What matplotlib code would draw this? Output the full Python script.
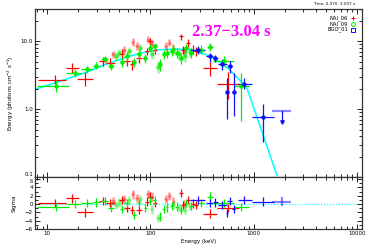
import numpy as np
import matplotlib
matplotlib.use("Agg")
import matplotlib.pyplot as plt

# NAI_06 (red), dark points
r_e = [11.9, 17.5, 23, 35, 41, 53, 59.5, 66.5, 77.5, 92, 99.8, 111, 197, 208, 232, 259, 278, 374, 560]
r_elo = [8.1, 15.3, 19.5, 32, 37, 50, 56, 63, 73, 88, 95, 106, 188, 199, 222, 248, 266, 322, 440]
r_ehi = [15.3, 20.2, 28, 38, 45, 56, 63, 70, 82, 96, 105, 116, 206, 217, 243, 270, 290, 440, 725]
r_f = [2.69, 4.08, 2.75, 5.1, 4.8, 6.6, 5.1, 4.56, 5.7, 7.15, 10.0, 7.55, 11.8, 7.55, 9.5, 7.55, 7.15, 4.08, 2.32]
r_flo = [2.32, 3.37, 2.2, 4.3, 4.0, 5.6, 4.3, 3.8, 4.8, 6.2, 8.8, 6.5, 10.6, 6.5, 8.3, 6.4, 6.0, 3.07, 1.40]
r_fhi = [3.14, 4.8, 3.5, 5.9, 5.6, 7.6, 5.9, 5.3, 6.6, 8.1, 11.2, 8.6, 13.0, 8.6, 10.7, 8.7, 8.3, 4.93, 3.48]
r_sig = [0.24, 1.35, -2.0, 0.7, 0.2, 0.9, -1.0, -1.5, -1.4, 0.6, 1.8, 0.2, 2.65, -0.2, 1.0, 0.1, -0.3, -2.3, -1.0]

# NAI_06 faint points
p_e = [43.5, 55.5, 67.6, 74, 94, 103, 140, 153, 167, 212]
p_elo = [41.5, 53, 65, 71, 90, 99, 135, 148, 161, 204]
p_ehi = [45.5, 58, 70, 77, 98, 107, 145, 158, 173, 220]
p_f = [6.4, 7.55, 9.9, 8.65, 10.6, 9.25, 8.65, 9.6, 7.8, 7.05]
p_flo = [5.6, 6.6, 8.6, 7.5, 9.3, 8.1, 7.5, 8.4, 6.7, 6.0]
p_fhi = [7.3, 8.6, 11.2, 9.8, 12.0, 10.5, 9.8, 10.9, 9.0, 8.2]
p_sig = [0.8, 1.2, 2.3, 1.5, 2.4, 1.8, 1.2, 1.9, 0.6, 0.0]

# NAI_09 (green), dark points
g_e = [12.1, 18.4, 24.2, 29.9, 35.9, 41.6, 53.3, 58.7, 69, 77, 89, 99.8, 110, 124, 134, 144, 161, 179, 200, 223, 249, 311, 374, 513, 751]
g_elo = [8.0, 15.3, 21.3, 27.5, 33.5, 39, 51, 56, 66, 74, 86, 97, 106, 120, 130, 140, 156, 174, 194, 216, 241, 295, 350, 400, 650]
g_ehi = [16.1, 21.3, 27.5, 32.5, 38.5, 44, 56, 61.5, 72, 80, 92, 103, 114, 128, 138, 148, 166, 185, 207, 230, 257, 330, 400, 650, 900]
g_f = [2.22, 3.37, 3.86, 4.4, 5.4, 4.4, 4.93, 6.02, 4.93, 6.4, 5.7, 8.0, 8.45, 4.56, 6.4, 6.75, 7.15, 6.75, 5.7, 8.0, 6.75, 7.55, 8.3, 5.1, 2.19]
g_flo = [1.79, 2.95, 3.4, 3.9, 4.8, 3.8, 4.2, 5.2, 4.2, 5.5, 4.8, 7.0, 7.3, 3.7, 5.4, 5.7, 6.1, 5.7, 4.7, 6.8, 5.6, 6.5, 7.3, 4.3, 0.67]
g_fhi = [2.66, 3.85, 4.4, 4.95, 6.0, 5.0, 5.7, 6.9, 5.7, 7.4, 6.6, 9.1, 9.6, 5.5, 7.5, 7.9, 8.3, 7.9, 6.8, 9.2, 8.0, 8.8, 9.4, 6.0, 3.45]
g_sig = [-0.7, 0.0, 0.2, 0.4, 0.7, -1.0, -1.2, 0.3, -2.6, 0.2, -1.0, 0.8, 0.9, -3.0, -1.2, -0.8, -0.5, -0.6, -1.4, 0.3, -0.5, 0.2, 1.8, 0.3, -0.7]

# NAI_09 faint points
lg_e = [46, 50, 62, 80, 103, 118, 166, 190, 215, 240]
lg_elo = [44, 48, 59, 77, 99, 113, 160, 183, 207, 231]
lg_ehi = [48, 52, 65, 83, 107, 123, 172, 197, 223, 249]
lg_f = [6.0, 6.75, 7.2, 8.0, 6.4, 4.2, 7.55, 6.4, 6.0, 7.0]
lg_flo = [5.1, 5.8, 6.2, 6.9, 5.4, 3.4, 6.4, 5.3, 5.0, 5.9]
lg_fhi = [7.0, 7.8, 8.3, 9.2, 7.5, 5.1, 8.7, 7.6, 7.1, 8.2]
lg_sig = [-0.3, 0.4, 0.9, 1.1, -1.3, -3.4, -0.2, -0.9, -1.4, -0.5]

# BGO_01 (blue)
b_e = [290, 374, 424, 494, 594, 552, 640, 809, 1231]
b_elo = [240, 346, 404, 450, 558, 535, 620, 700, 960]
b_ehi = [340, 404, 450, 550, 620, 570, 660, 975, 1560]
b_f = [7.4, 6.0, 5.6, 4.56, 4.3, 1.82, 1.82, 2.38, 0.77]
b_flo = [6.4, 4.93, 5.0, 3.77, 3.45, 0.71, 0.80, 1.96, 0.33]
b_fhi = [8.45, 6.75, 6.2, 5.4, 5.1, 2.9, 3.45, 2.9, 1.2]
b_sig = [0.9, 0.2, 0.4, -0.2, 0.8, -2.2, -1.2, 1.0, 0.6]

# BGO_01 upper limit
ul_e = [1884]
ul_elo = [1520]
ul_ehi = [2300]
ul_f = [0.94]
ul_fend = [0.65]
ul_sig = [0.6]

# fitted model curve
m_e = [7.6, 15, 25, 40, 60, 80, 120, 180, 250, 360, 500, 600, 750, 871, 1687]
m_f = [1.96, 2.75, 3.6, 4.8, 5.9, 6.7, 7.5, 7.7, 7.5, 6.2, 4.7, 3.64, 2.6, 1.96, 0.105]

RED = '#ff0000'
GREEN = '#00ee00'
BLUE = '#1010ff'
CYAN = '#00ffff'


def xe(e, lo, hi):
    e = np.array(e)
    return [e - np.array(lo), np.array(hi) - e]


fig = plt.figure(figsize=(3.71, 2.49), dpi=100)
ax = fig.add_axes([0.0943, 0.289, 0.881, 0.675])
ax2 = fig.add_axes([0.0943, 0.0803, 0.881, 0.209], sharex=ax)

# top panel
ax.plot(m_e, m_f, color=CYAN, lw=1.1, zorder=1)
ax.errorbar(p_e, p_f, xerr=xe(p_e, p_elo, p_ehi), yerr=xe(p_f, p_flo, p_fhi),
            fmt='none', ecolor=RED, elinewidth=1.8, alpha=0.4)
ax.errorbar(lg_e, lg_f, xerr=xe(lg_e, lg_elo, lg_ehi), yerr=xe(lg_f, lg_flo, lg_fhi),
            fmt='o', ms=2.2, color=GREEN, ecolor=GREEN, elinewidth=1.8, alpha=0.4)
ax.errorbar(r_e, r_f, xerr=xe(r_e, r_elo, r_ehi), yerr=xe(r_f, r_flo, r_fhi),
            fmt='none', ecolor=RED, elinewidth=0.9)
ax.errorbar(g_e, g_f, xerr=xe(g_e, g_elo, g_ehi), yerr=xe(g_f, g_flo, g_fhi),
            fmt='o', ms=2.2, color=GREEN, ecolor=GREEN, elinewidth=0.9)
ax.errorbar(b_e, b_f, xerr=xe(b_e, b_elo, b_ehi), yerr=xe(b_f, b_flo, b_fhi),
            fmt='o', ms=2.2, color=BLUE, ecolor=BLUE, elinewidth=0.9)
ax.errorbar(ul_e, ul_f, xerr=xe(ul_e, ul_elo, ul_ehi), fmt='none',
            ecolor=BLUE, elinewidth=1.6, alpha=0.5)
ax.plot([ul_e[0], ul_e[0]], [ul_f[0], ul_fend[0]], color=BLUE, lw=0.9)
ax.plot(ul_e, ul_fend, 'v', color=BLUE, ms=2.5)

ax.set_xscale('log')
ax.set_yscale('log')
ax.set_xlim(7.6, 11200)
ax.set_ylim(0.1, 30)
ax.set_yticks([0.1, 1, 10])
ax.set_yticklabels(['0.1', '1.0', '10.0'])
ax.set_ylabel('Energy (photons cm$^{-2}$ s$^{-1}$)', fontsize=4, labelpad=3)
ax.tick_params(labelbottom=False)

ax.text(0.6, 0.86, '2.37\u22123.04 s', transform=ax.transAxes, color='#ff00ff',
        fontsize=12, fontweight='bold', family='Liberation Serif', ha='center', va='center')
fig.text(0.957, 0.982, 'Time: 2.370  3.037 s', fontsize=3, ha='right', va='center')

# legend drawn as text
leg_names = ['NAI_06', 'NAI_09', 'BGO_01']
leg_cols = [RED, GREEN, BLUE]
leg_marks = ['+', 'o', 's']
for i in range(3):
    yy = 0.945 - i * 0.034
    ax.text(0.958, yy, leg_names[i], transform=ax.transAxes, fontsize=3.8,
            ha='right', va='center')
    ax.plot([0.972], [yy], leg_marks[i], transform=ax.transAxes, ms=2.8,
            mfc='none', mec=leg_cols[i], mew=0.7, clip_on=False)

# residual panel
ax2.axhline(0, color=CYAN, lw=0.8, ls=':', zorder=1)
ones = lambda s: np.ones(len(s))
ax2.errorbar(p_e, p_sig, xerr=xe(p_e, p_elo, p_ehi), yerr=ones(p_sig),
             fmt='none', ecolor=RED, elinewidth=1.8, alpha=0.4)
ax2.errorbar(lg_e, lg_sig, xerr=xe(lg_e, lg_elo, lg_ehi), yerr=ones(lg_sig),
             fmt='none', ecolor=GREEN, elinewidth=1.8, alpha=0.4)
ax2.errorbar(r_e, r_sig, xerr=xe(r_e, r_elo, r_ehi), yerr=ones(r_sig),
             fmt='none', ecolor=RED, elinewidth=0.9)
ax2.errorbar(g_e, g_sig, xerr=xe(g_e, g_elo, g_ehi), yerr=ones(g_sig),
             fmt='none', ecolor=GREEN, elinewidth=0.9)
ax2.errorbar(b_e, b_sig, xerr=xe(b_e, b_elo, b_ehi), yerr=ones(b_sig),
             fmt='none', ecolor=BLUE, elinewidth=0.9)
ax2.errorbar(ul_e, ul_sig, xerr=xe(ul_e, ul_elo, ul_ehi), yerr=ones(ul_sig),
             fmt='none', ecolor=BLUE, elinewidth=1.6, alpha=0.5)
ax2.set_ylim(-6, 6.5)
ax2.set_yticks([-6, -4, -2, 0, 2, 4, 6])
ax2.set_yticks([-5, -3, -1, 1, 3, 5], minor=True)
ax2.set_xticks([10, 100, 1000, 10000])
ax2.set_xticklabels(['10', '100', '1000', '10000'])
ax2.set_xlabel('Energy (keV)', fontsize=4, labelpad=2)
ax2.set_ylabel('Sigma', fontsize=4, labelpad=6)

for a in (ax, ax2):
    a.tick_params(which='both', direction='in', top=True, right=True,
                  labelsize=4, width=0.6, pad=1.5)
    a.tick_params(which='major', length=3.5)
    a.tick_params(which='minor', length=2)
    for s in a.spines.values():
        s.set_linewidth(0.9)
        s.set_color('#333333')

# keep the "0.1" and "6" labels apart where the panels meet
ax.yaxis.get_major_ticks()[0].label1.set_va('bottom')
ax2.yaxis.get_major_ticks()[-1].label1.set_va('top')
ax2.yaxis.get_major_ticks()[-1].label1.set_fontsize(3.5)

fig.savefig('out.png', dpi=100)
